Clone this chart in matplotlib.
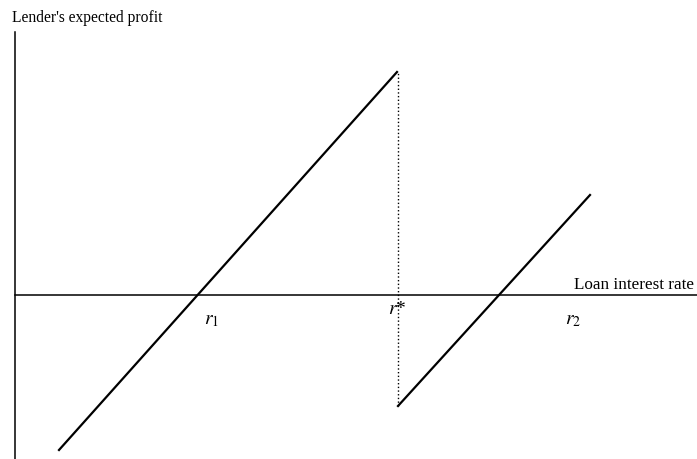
import numpy as np
import matplotlib.pyplot as plt

plt.rcParams['font.family'] = ['Liberation Serif', 'DejaVu Serif']
plt.rcParams['mathtext.fontset'] = 'stix'

# profit line below r* and above r*
seg1_x = [0.44, 3.82]
seg1_y = [-1.55, 2.23]
seg2_x = [3.83, 5.75]
seg2_y = [-1.11, 1.00]
r_star = 3.83

label_x = [1.96, 3.82, 5.58]
label_y = [-0.25, -0.14, -0.25]
labels = [r'$r_1$', r'$r$*', r'$r_2$']

fig = plt.figure(figsize=(6.97, 4.60), dpi=100)
ax = fig.add_axes([0, 0, 1, 1])
ax.set_xlim(-0.15, 6.82)
ax.set_ylim(-1.64, 2.96)
ax.axis('off')

# axes
ax.plot([0, 0], [-1.64, 2.63], color='black', lw=1.1)
ax.plot([0, 6.82], [0, 0], color='black', lw=1.1)

ax.plot(seg1_x, seg1_y, color='black', lw=1.6)
ax.plot(seg2_x, seg2_y, color='black', lw=1.6)
ax.plot([r_star, r_star], [seg2_y[0], seg1_y[1]], color='black', lw=1.0, linestyle=':')

for x, y, s in zip(label_x, label_y, labels):
    ax.text(x, y, s, fontsize=14, ha='center', va='center')

ax.text(5.59, 0.03, 'Loan interest rate', fontsize=12.3, ha='left', va='bottom')
ax.text(-0.03, 2.78, "Lender's expected profit", fontsize=11.2, ha='left', va='center')

fig.savefig('out.png', dpi=100)
